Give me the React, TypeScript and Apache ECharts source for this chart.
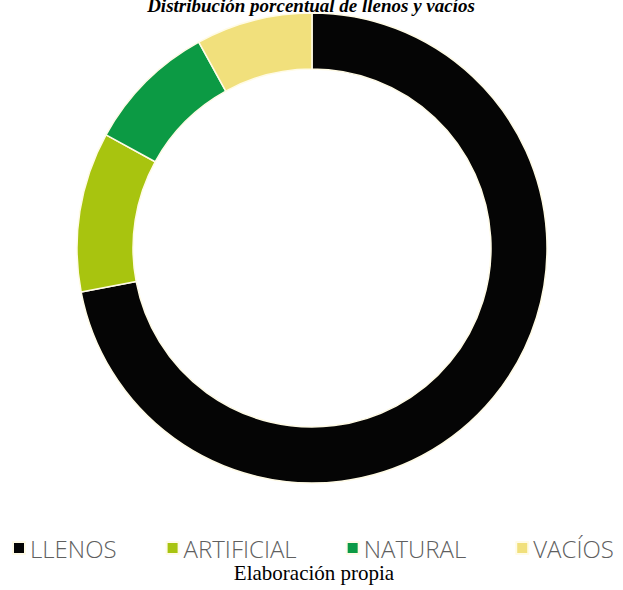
import React, { useEffect, useRef } from "react";
import * as echarts from "echarts";

const categories = ["LLENOS", "ARTIFICIAL", "NATURAL", "VACÍOS"];
const values = [72, 11, 9, 8];
const colors = ["#050505", "#a8c40f", "#0c9a44", "#f1e07c"];
const titleText = "Distribución porcentual de llenos y vacíos";
const sourceText = "Elaboración propia";

export default function App() {
  const ref = useRef<HTMLDivElement>(null);
  useEffect(() => {
    document.body.style.margin = "0";
    const chart = echarts.init(ref.current!, null, { renderer: "svg" });
    chart.setOption({
      animation: false,
      backgroundColor: "#ffffff",
      legend: {
        data: categories,
        left: 12,
        top: 536,
        width: 611,
        padding: 0,
        icon: "rect",
        itemWidth: 12,
        itemHeight: 12,
        itemGap: 49,
        textStyle: {
          fontFamily: "'Open Sans', sans-serif",
          fontSize: 24,
          lineHeight: 24,
          color: "#5f5f5f",
          fontWeight: 300,
        },
      },
      graphic: [
        {
          type: "text",
          x: 311,
          y: 5.5,
          style: {
            text: titleText,
            fontFamily: "'Liberation Serif', 'Times New Roman', serif",
            fontSize: 19,
            fontWeight: "bold",
            fontStyle: "italic",
            fill: "#000",
            align: "center",
            verticalAlign: "middle",
          },
        },
        {
          type: "text",
          x: 314,
          y: 573,
          style: {
            text: sourceText,
            fontFamily: "'Liberation Serif', 'Times New Roman', serif",
            fontSize: 21,
            fill: "#000",
            align: "center",
            verticalAlign: "middle",
          },
        },
      ],
      series: [
        {
          type: "pie",
          center: [312, 248],
          radius: [179, 235],
          startAngle: 90,
          clockwise: true,
          label: { show: false },
          labelLine: { show: false },
          emphasis: { disabled: true },
          itemStyle: { borderColor: "#fffbe6", borderWidth: 1.5 },
          data: categories.map((name, i) => ({
            name,
            value: values[i],
            itemStyle: { color: colors[i] },
          })),
        },
      ],
    });
    return () => chart.dispose();
  }, []);
  return <div ref={ref} style={{ width: 623, height: 590 }} />;
}
